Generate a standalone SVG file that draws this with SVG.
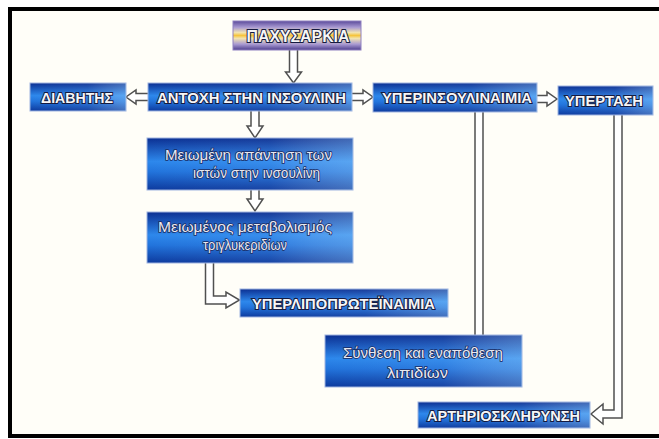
<svg xmlns="http://www.w3.org/2000/svg" width="659" height="439" viewBox="0 0 659 439">
<defs>
<linearGradient id="blue" x1="0" y1="0" x2="0" y2="1">
<stop offset="0" stop-color="#0b2f92"/>
<stop offset="0.45" stop-color="#2d88ec"/>
<stop offset="0.65" stop-color="#2274dc"/>
<stop offset="1" stop-color="#0d3a9e"/>
</linearGradient>
<linearGradient id="shine" x1="0" y1="0" x2="1" y2="0">
<stop offset="0" stop-color="#ffffff" stop-opacity="0"/>
<stop offset="0.6" stop-color="#ffffff" stop-opacity="0.05"/>
<stop offset="1" stop-color="#bfe8ff" stop-opacity="0.3"/>
</linearGradient>
<linearGradient id="pax" x1="0" y1="0" x2="0" y2="1">
<stop offset="0" stop-color="#5a4a9a"/>
<stop offset="0.22" stop-color="#a99ad2"/>
<stop offset="0.4" stop-color="#f2e4b0"/>
<stop offset="0.5" stop-color="#f6c43c"/>
<stop offset="0.6" stop-color="#f2e4b0"/>
<stop offset="0.8" stop-color="#a99ad2"/>
<stop offset="1" stop-color="#4e3f8e"/>
</linearGradient>
</defs>
<style>
.box{fill:url(#blue);stroke:#9fb4e0;stroke-width:1}
.sh{fill:url(#shine)}
.cap{font-family:"Liberation Sans",Arial,sans-serif;font-weight:bold;font-size:15px;fill:#f6f6f6;stroke:#151a40;stroke-width:2;paint-order:stroke;text-anchor:middle}
.low{font-family:"Liberation Sans",Arial,sans-serif;font-size:15px;fill:#e9e9f0;stroke:#1a2a60;stroke-width:1.6;paint-order:stroke;text-anchor:middle}
.arr{fill:#ffffff;stroke:#505050;stroke-width:1.5;stroke-linejoin:miter}
</style>
<rect x="0" y="0" width="659" height="439" fill="#ffffff"/>
<rect x="10" y="9" width="660" height="427" fill="#fffef8" stroke="#000000" stroke-width="4"/>

<g id="connectors">
<path class="arr" d="M289.5,50 V72 H285.5 L293.5,83 L301.5,72 H297.5 V50"/>
<path class="arr" d="M148,93.5 H136 V90 L126,97 L136,104 V100.5 H148"/>
<path class="arr" d="M352,93.5 H363 V90 L373,97 L363,104 V100.5 H352"/>
<path class="arr" d="M537,95.5 H547 V92 L557,99 L547,106 V102.5 H537"/>
<path class="arr" d="M251,111 V126 H247 L255,138 L263,126 H259 V111"/>
<path class="arr" d="M251,190 V199 H247 L255,211 L263,199 H259 V190"/>
<path class="arr" d="M205.5,263 V304 H226 V308 L239.5,300 L226,292 V296 H213.5 V263"/>
<rect x="475.8" y="112" width="6.4" height="223" fill="#ffffff"/>
<path class="arr" d="M475,112 V335 M483,112 V335"/>
<path class="arr" d="M614,115 V410 H603 V404 L591,414 L603,424 V418 H622 V115"/>
</g>

<g id="n_pax">
<rect x="233" y="21" width="128" height="29" fill="url(#pax)" stroke="#9080c0" stroke-width="1"/>
<text class="cap" x="298" y="42" style="font-size:16px" textLength="103" lengthAdjust="spacingAndGlyphs">ΠΑΧΥΣΑΡΚΙΑ</text>
</g>
<g id="n_diab">
<rect class="box" x="30" y="83" width="96" height="28"/>
<rect class="sh" x="30" y="83" width="96" height="28"/>
<text class="cap" x="77" y="102.5" textLength="72" lengthAdjust="spacingAndGlyphs">ΔΙΑΒΗΤΗΣ</text>
</g>
<g id="n_antoxi">
<rect class="box" x="148" y="83" width="204" height="28"/>
<rect class="sh" x="148" y="83" width="204" height="28"/>
<text class="cap" x="251.5" y="102.5" textLength="189" lengthAdjust="spacingAndGlyphs">ΑΝΤΟΧΗ ΣΤΗΝ ΙΝΣΟΥΛΙΝΗ</text>
</g>
<g id="n_yperins">
<rect class="box" x="373" y="83" width="164" height="29"/>
<rect class="sh" x="373" y="83" width="164" height="29"/>
<text class="cap" x="457" y="103" textLength="150" lengthAdjust="spacingAndGlyphs">ΥΠΕΡΙΝΣΟΥΛΙΝΑΙΜΙΑ</text>
</g>
<g id="n_ypert">
<rect class="box" x="558" y="86" width="95" height="29"/>
<rect class="sh" x="558" y="86" width="95" height="29"/>
<text class="cap" x="604" y="106" textLength="78" lengthAdjust="spacingAndGlyphs">ΥΠΕΡΤΑΣΗ</text>
</g>
<g id="n_meiom1">
<rect class="box" x="147" y="138" width="206" height="52"/>
<rect class="sh" x="147" y="138" width="206" height="52"/>
<text class="low" x="248.5" y="160" textLength="167" lengthAdjust="spacingAndGlyphs">Μειωμένη απάντηση των</text>
<text class="low" x="256.5" y="178" textLength="127" lengthAdjust="spacingAndGlyphs">ιστών στην ινσουλίνη</text>
</g>
<g id="n_meiom2">
<rect class="box" x="147" y="212" width="206" height="51"/>
<rect class="sh" x="147" y="212" width="206" height="51"/>
<text class="low" x="245" y="232" textLength="174" lengthAdjust="spacingAndGlyphs">Μειωμένος μεταβολισμός</text>
<text class="low" x="245" y="250" textLength="84" lengthAdjust="spacingAndGlyphs">τριγλυκεριδίων</text>
</g>
<g id="n_yperlipo">
<rect class="box" x="240" y="289" width="208" height="28"/>
<rect class="sh" x="240" y="289" width="208" height="28"/>
<text class="cap" x="343.5" y="308.5" textLength="183" lengthAdjust="spacingAndGlyphs">ΥΠΕΡΛΙΠΟΠΡΩΤΕΪΝΑΙΜΙΑ</text>
</g>
<g id="n_synth">
<rect class="box" x="325" y="335" width="197" height="52"/>
<rect class="sh" x="325" y="335" width="197" height="52"/>
<text class="low" x="423" y="358" textLength="160" lengthAdjust="spacingAndGlyphs">Σύνθεση και εναπόθεση</text>
<text class="low" x="417.5" y="378" textLength="61" lengthAdjust="spacingAndGlyphs">λιπιδίων</text>
</g>
<g id="n_arth">
<rect class="box" x="418" y="402" width="172" height="26"/>
<rect class="sh" x="418" y="402" width="172" height="26"/>
<text class="cap" x="503.5" y="420.5" textLength="153" lengthAdjust="spacingAndGlyphs">ΑΡΤΗΡΙΟΣΚΛΗΡΥΝΣΗ</text>
</g>
</svg>
